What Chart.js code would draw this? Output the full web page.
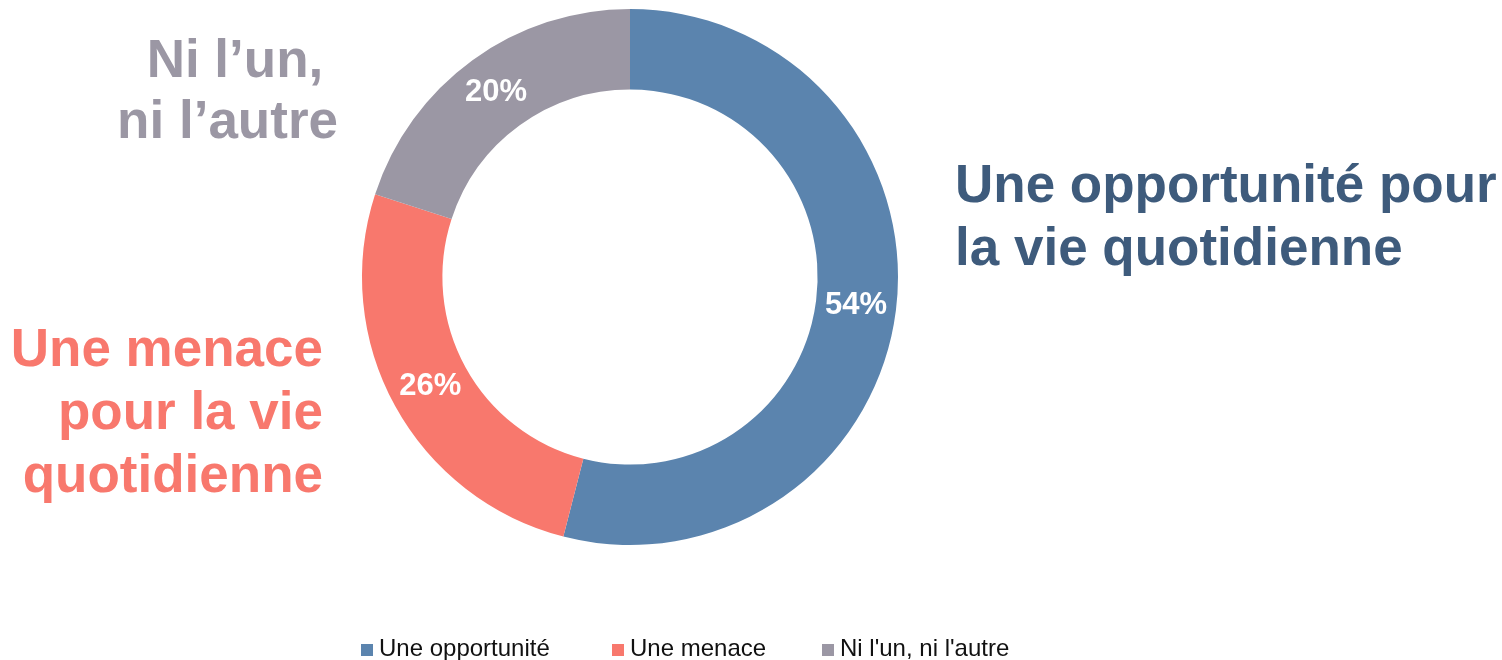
<!DOCTYPE html>
<html>
<head>
<meta charset="utf-8">
<script src="https://cdn.jsdelivr.net/npm/chart.js@4/dist/chart.umd.min.js"></script>
<style>
  html, body { margin: 0; padding: 0; background: #fff; }
  #wrap { position: relative; width: 1502px; height: 660px; overflow: hidden; font-family: "Liberation Sans", Arial, sans-serif; }
  #c { position: absolute; left: 0; top: 0; }
  .big { position: absolute; font-weight: bold; font-size: 53px; line-height: 63px; white-space: pre; }
  #lblBlue { left: 955px; top: 152px; color: #3E5B7C; text-align: left; }
  #lblRed { right: 1179px; top: 316px; color: #F8786D; text-align: right; }
  #lblGray { right: 1164px; top: 28px; line-height: 61px; color: #9B97A4; text-align: right; }
  #legend { position: absolute; top: 636px; left: 0; width: 1502px; height: 24px; font-size: 24px; color: #111; }
  .li { position: absolute; top: 0; height: 24px; line-height: 24px; white-space: nowrap; }
  .sw { display: inline-block; width: 12px; height: 12px; margin-right: 6px; vertical-align: 0px; }
</style>
</head>
<body>
<div id="wrap">
  <canvas id="c" width="1502" height="660"></canvas>
  <div id="lblGray" class="big"></div>
  <div id="lblRed" class="big"></div>
  <div id="lblBlue" class="big"></div>
  <div id="legend"></div>
</div>
<script>
const categories = ["Une opportunité", "Une menace", "Ni l'un, ni l'autre"];
const values = [54, 26, 20];
const valueLabels = ["54%", "26%", "20%"];
const bigLabels = ["Une opportunité pour\nla vie quotidienne", "Une menace\npour la vie\nquotidienne", "Ni l’un, \nni l’autre"];
const sliceColors = ["#5B84AE", "#F8786D", "#9B97A4"];
const legendLefts = [361, 612, 822];

document.getElementById('lblBlue').textContent = bigLabels[0];
document.getElementById('lblRed').textContent = bigLabels[1];
document.getElementById('lblGray').textContent = bigLabels[2];

const legend = document.getElementById('legend');
categories.forEach((c, i) => {
  const d = document.createElement('div');
  d.className = 'li';
  d.style.left = legendLefts[i] + 'px';
  d.innerHTML = '<span class="sw" style="background:' + sliceColors[i] + '"></span>';
  d.appendChild(document.createTextNode(c));
  legend.appendChild(d);
});

const valueLabelPlugin = {
  id: 'valueLabels',
  afterDatasetsDraw(chart) {
    const ctx = chart.ctx;
    const meta = chart.getDatasetMeta(0);
    ctx.save();
    ctx.fillStyle = '#ffffff';
    ctx.font = 'bold 31px "Liberation Sans", Arial, sans-serif';
    ctx.textAlign = 'center';
    ctx.textBaseline = 'middle';
    meta.data.forEach((arc, i) => {
      const p = arc.tooltipPosition();
      ctx.fillText(valueLabels[i], p.x, p.y);
    });
    ctx.restore();
  }
};

new Chart(document.getElementById('c'), {
  type: 'doughnut',
  data: {
    labels: categories,
    datasets: [{
      data: values,
      backgroundColor: sliceColors,
      borderWidth: 0,
      hoverOffset: 0
    }]
  },
  options: {
    responsive: false,
    animation: false,
    cutout: '70%',
    layout: { padding: { left: 362, right: 604, top: 9, bottom: 115 } },
    plugins: {
      legend: { display: false },
      tooltip: { enabled: false }
    }
  },
  plugins: [valueLabelPlugin]
});
</script>
</body>
</html>
